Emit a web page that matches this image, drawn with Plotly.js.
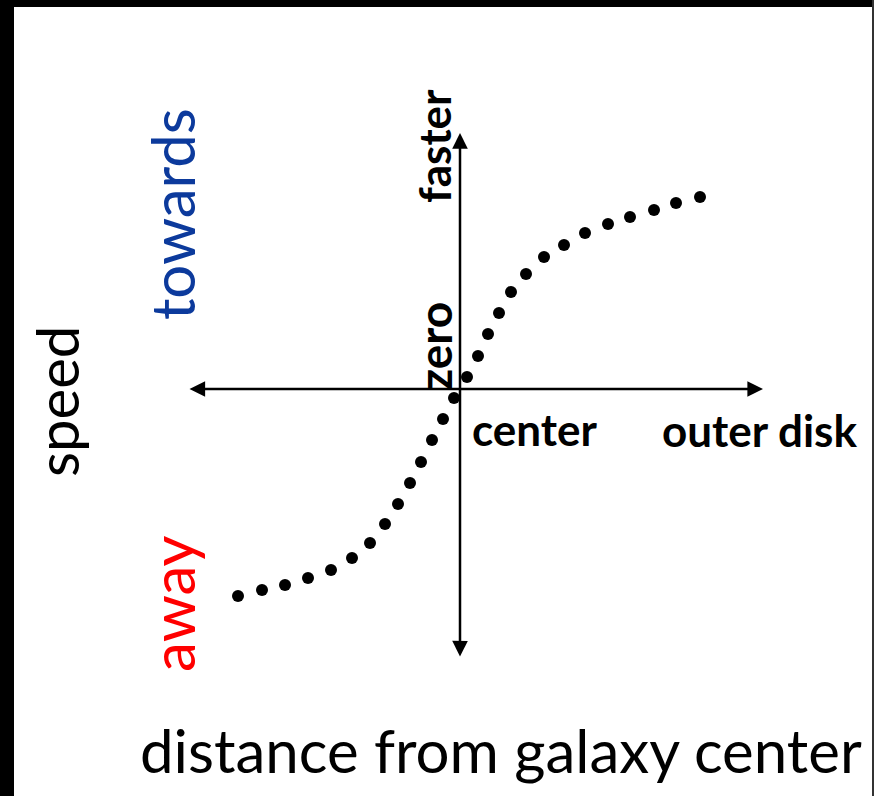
<!DOCTYPE html>
<html>
<head>
<meta charset="utf-8">
<script src="https://cdn.plot.ly/plotly-3.0.1.min.js"></script>
<style>
html,body{margin:0;padding:0;background:#fff;}
#chart{width:874px;height:796px;}
</style>
</head>
<body>
<div id="chart"></div>
<script>
// Rotation curve samples (distance from center, line-of-sight speed), arbitrary units
var distance = [-22.2, -19.8, -17.5, -15.2, -12.9, -10.8, -9.0, -7.5, -6.2, -5.0, -3.9, -2.8, -1.7, -0.6,
                0.7, 1.8, 2.8, 3.9, 5.1, 6.6, 8.4, 10.4, 12.5, 14.8, 17.0, 19.4, 21.6, 24.0];
var speed = [-20.7, -20.1, -19.6, -18.9, -18.1, -16.9, -15.4, -13.5, -11.5, -9.4, -7.3, -5.1, -3.0, -0.9,
             1.2, 3.3, 5.5, 7.6, 9.7, 11.5, 13.2, 14.4, 15.6, 16.5, 17.2, 17.9, 18.6, 19.2];
// Axis arrow extents
var xAxisEnds = [-27.2, 30.3];
var yAxisEnds = [-26.9, 25.6];
// Labels
var xTickLabels = ["center", "outer disk"];
var yTickLabels = ["zero", "faster"];
var sideLabels = ["towards", "away"];
var yTitle = "speed";
var xTitle = "distance from galaxy center";

var W = 874, H = 796;
function px(x){ return x / W; }
function py(y){ return 1 - y / H; }

var FONT = "Lato, 'Open Sans', sans-serif";

var trace = {
  x: distance, y: speed, mode: "markers", type: "scatter",
  marker: {color: "#000000", size: 12}, hoverinfo: "skip", showlegend: false
};

var annotations = [
  // horizontal axis arrow (both ends)
  {x: xAxisEnds[1], y: 0, ax: xAxisEnds[0], ay: 0, xref: "x", yref: "y", axref: "x", ayref: "y",
   text: "", showarrow: true, arrowhead: 2, startarrowhead: 2, arrowside: "end+start",
   arrowwidth: 2.5, arrowsize: 1.25, startarrowsize: 1.25, arrowcolor: "#000", standoff: 0, startstandoff: 0},
  // vertical axis arrow (both ends)
  {x: 0, y: yAxisEnds[1], ax: 0, ay: yAxisEnds[0], xref: "x", yref: "y", axref: "x", ayref: "y",
   text: "", showarrow: true, arrowhead: 2, startarrowhead: 2, arrowside: "end+start",
   arrowwidth: 2.5, arrowsize: 1.25, startarrowsize: 1.25, arrowcolor: "#000", standoff: 0, startstandoff: 0},
  // tick-like labels
  {xref: "paper", yref: "paper", x: px(535), y: py(429), text: "<b>" + xTickLabels[0] + "</b>",
   showarrow: false, xanchor: "center", yanchor: "middle", font: {family: FONT, size: 44, color: "#000"}},
  {xref: "paper", yref: "paper", x: px(759), y: py(430), text: "<b>" + xTickLabels[1] + "</b>",
   showarrow: false, xanchor: "center", yanchor: "middle", font: {family: FONT, size: 44, color: "#000"}},
  {xref: "paper", yref: "paper", x: px(434), y: py(346), text: "<b>" + yTickLabels[0] + "</b>", textangle: -90,
   showarrow: false, xanchor: "center", yanchor: "middle", font: {family: FONT, size: 46, color: "#000"}},
  {xref: "paper", yref: "paper", x: px(434), y: py(146), text: "<b>" + yTickLabels[1] + "</b>", textangle: -90,
   showarrow: false, xanchor: "center", yanchor: "middle", font: {family: FONT, size: 44, color: "#000"}},
  // side labels
  {xref: "paper", yref: "paper", x: px(172), y: py(214), text: sideLabels[0], textangle: -90,
   showarrow: false, xanchor: "center", yanchor: "middle", font: {family: FONT, size: 60, color: "#0c3a9c"}},
  {xref: "paper", yref: "paper", x: px(172), y: py(604), text: sideLabels[1], textangle: -90,
   showarrow: false, xanchor: "center", yanchor: "middle", font: {family: FONT, size: 60, color: "#ff0000"}},
  {xref: "paper", yref: "paper", x: px(56), y: py(402), text: yTitle, textangle: -90,
   showarrow: false, xanchor: "center", yanchor: "middle", font: {family: FONT, size: 58, color: "#000"}},
  {xref: "paper", yref: "paper", x: px(501), y: py(750), text: xTitle,
   showarrow: false, xanchor: "center", yanchor: "middle", font: {family: FONT, size: 60, color: "#000"}}
];

var shapes = [
  {type: "rect", xref: "paper", yref: "paper", x0: 0, x1: 1, y0: py(7), y1: 1, fillcolor: "#000", line: {width: 0}, layer: "above"},
  {type: "rect", xref: "paper", yref: "paper", x0: 0, x1: px(14), y0: 0, y1: 1, fillcolor: "#000", line: {width: 0}, layer: "above"},
  {type: "rect", xref: "paper", yref: "paper", x0: px(872), x1: 1, y0: 0, y1: 1, fillcolor: "#333", line: {width: 0}, layer: "above"}
];

var layout = {
  width: W, height: H,
  margin: {l: 0, r: 0, t: 0, b: 0},
  paper_bgcolor: "#fff", plot_bgcolor: "#fff",
  xaxis: {range: [-46, 41.4], visible: false, fixedrange: true},
  yaxis: {range: [-40.7, 38.9], visible: false, fixedrange: true},
  annotations: annotations,
  shapes: shapes,
  showlegend: false
};

Plotly.newPlot("chart", [trace], layout, {staticPlot: true, displayModeBar: false});
</script>
</body>
</html>
